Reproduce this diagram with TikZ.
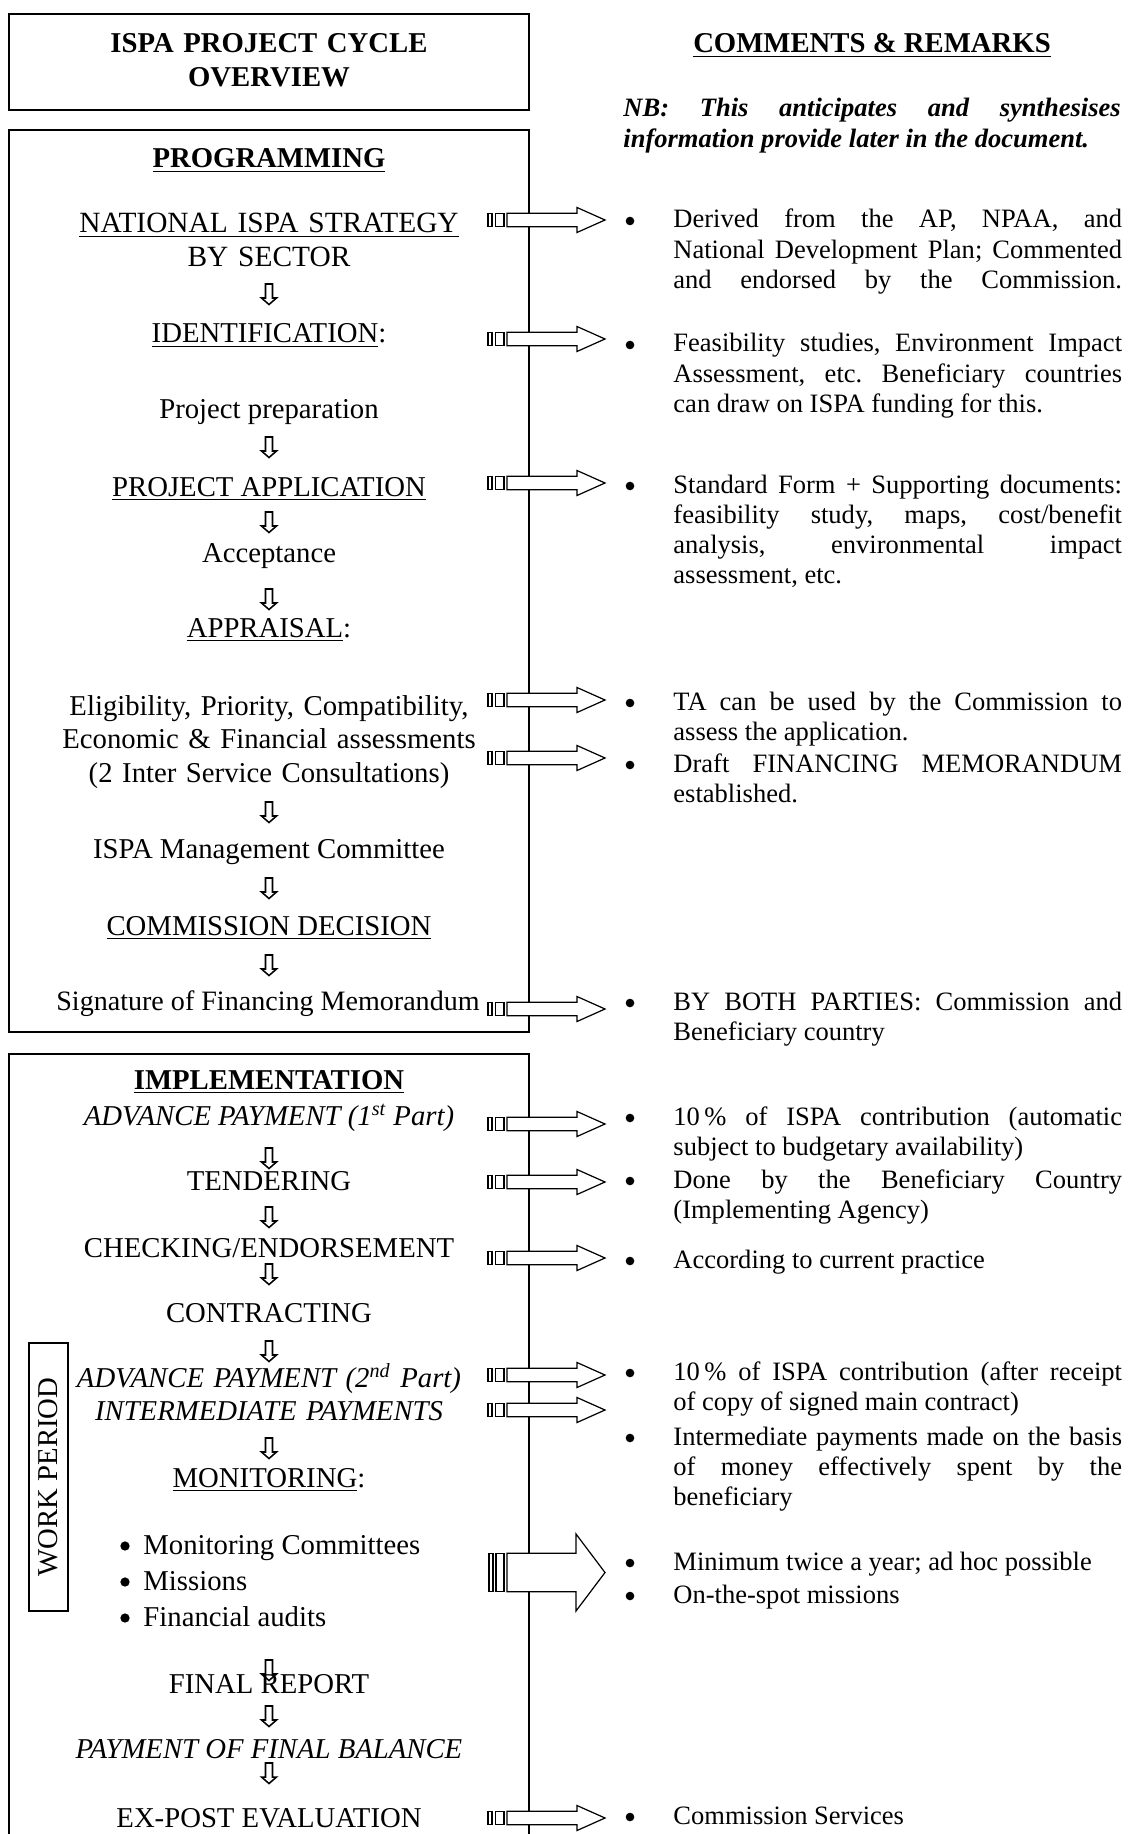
\documentclass[tikz,border=0pt]{standalone}
\usepackage{fontspec}
\setmainfont{Liberation Serif}
\usetikzlibrary{positioning}
\hyphenpenalty=10000
\exhyphenpenalty=10000
\frenchspacing

\tikzset{
    box/.style={line width=0.6pt},
    leftitem/.style={anchor=base, inner sep=0pt, font=\fontsize{13}{15.2}\selectfont},
    leftblock/.style={leftitem, text width=235pt, align=center},
    remark/.style={anchor=base west, inner sep=0pt, text width=203pt, align=justify,
        font=\fontsize{12}{13.6}\selectfont},
    dot/.style={circle, fill, inner sep=0pt, minimum size=3.9pt},
    arrline/.style={line width=0.55pt, fill=white},
    downarr/.pic={
        \draw[line width=0.7pt] (-3.5,-10) -- (3.5,-10) -- (3.5,4) -- (7.5,4) -- (0,10.5)
            -- (-7.5,4) -- (-3.5,4) -- cycle;
    },
    sidearr/.pic={
        \draw[arrline] (488,-6.7) rectangle (492,6.7) (495.5,-6.7) rectangle (504,6.7);
        \draw[arrline] (507,-6.7) -- (577,-6.7) -- (577,-12.5) -- (605,0) -- (577,12.5)
            -- (577,6.7) -- (507,6.7) -- cycle;
    }
}
% justify the last line too
\newcommand{\fullpar}{{\parfillskip=0pt\par}}

\begin{document}
\begin{tikzpicture}[x=0.4525pt, y=-0.4525pt]
    \useasboundingbox (0,0) rectangle (1128,1834);
    % frames
    \draw[box] (9,14) rectangle (529,110);
    \draw[box] (9,130) rectangle (529,1032);
    \draw[box] (9,1850) -- (9,1054) -- (529,1054) -- (529,1850);
    \draw[box] (29,1343) rectangle (68,1611);

    % headings
    \node[leftblock, font=\fontsize{13}{15}\selectfont\bfseries] (title) at (269,53)
        {ISPA PROJECT CYCLE\\OVERVIEW};
    \node[leftitem, font=\fontsize{13}{15}\selectfont\bfseries] (comments) at (872,53)
        {\underline{COMMENTS \& REMARKS}};
    \node[remark, text width=225pt, font=\fontsize{12}{13.6}\selectfont\bfseries\itshape] (nb) at (623,117)
        {NB: This anticipates and synthesises\linebreak information provide later in the document.};

    % programming
    \node[leftitem, font=\fontsize{13}{15.2}\selectfont\bfseries] (prog) at (269,168) {\underline{PROGRAMMING}};
    \node[leftblock, font=\fontsize{13.3}{15.2}\selectfont] (strategy) at (269,233) {\underline{NATIONAL ISPA STRATEGY}\\BY SECTOR};
    \node[leftitem] (ident) at (269,343) {\underline{IDENTIFICATION}:};
    \node[leftitem] (prep) at (269,418) {Project preparation};
    \node[leftitem] (appl) at (269,496) {\underline{PROJECT APPLICATION}};
    \node[leftitem] (accept) at (269,562) {Acceptance};
    \node[leftitem] (apprais) at (269,637) {\underline{APPRAISAL}:};
    \node[leftblock] (assess) at (269,715)
        {Eligibility, Priority, Compatibility,\\Economic \& Financial assessments\\(2 Inter Service Consultations)};
    \node[leftitem] (mgmt) at (269,858) {ISPA Management Committee};
    \node[leftitem] (decision) at (269,935) {\underline{COMMISSION DECISION}};
    \node[leftitem, font=\fontsize{12.7}{15.2}\selectfont] (signature) at (268,1010) {Signature of Financing Memorandum};

    % implementation
    \node[leftitem, font=\fontsize{13}{15.2}\selectfont\bfseries] (impl) at (269,1089) {\underline{IMPLEMENTATION}};
    \node[leftitem, font=\fontsize{13}{15.2}\selectfont\itshape] (adv1) at (269,1125)
        {ADVANCE PAYMENT (1\textsuperscript{st} Part)};
    \node[leftitem] (tender) at (269,1190) {TENDERING};
    \node[leftitem] (check) at (269,1257) {CHECKING/ENDORSEMENT};
    \node[leftitem] (contract) at (269,1322) {CONTRACTING};
    \node[leftblock, font=\fontsize{13}{15.2}\selectfont\itshape] (adv2) at (269,1387)
        {ADVANCE PAYMENT (2\textsuperscript{nd} Part)\\INTERMEDIATE PAYMENTS};
    \node[leftitem] (monit) at (269,1487) {\underline{MONITORING}:};
    \foreach \y/\t [count=\i] in {1554/Monitoring Committees, 1590/Missions, 1626/Financial audits} {
        \node[dot, minimum size=4.2pt] (mdot\i) at (125,\y-8) {};
        \node[leftitem, anchor=base west] (mon\i) at (143,\y) {\t};
    }
    \node[leftitem] (finalrep) at (269,1693) {FINAL REPORT};
    \node[leftitem, font=\fontsize{13}{15.2}\selectfont\itshape] (balance) at (269,1758) {PAYMENT OF FINAL BALANCE};
    \node[leftitem] (expost) at (269,1827) {EX-POST EVALUATION};
    \node[leftitem, anchor=center, rotate=90] (work) at (48.5,1477) {WORK PERIOD};

    % down arrows
    \foreach \y in {294,447,522,599,812,888,965,1158,1217,1274,1351,1448,1670,1716,1773}
        \pic at (269,\y) {downarr};

    % arrows to the remarks
    \foreach \y in {220,339,483,700,758,1009,1124,1182,1258,1375,1410,1818}
        \pic at (0,\y) {sidearr};
    \draw[arrline] (489,1553.3) rectangle (493,1591.7) (496,1553.3) rectangle (504,1591.7);
    \draw[arrline] (507,1553.3) -- (576,1553.3) -- (576,1534) -- (605,1572.5) -- (576,1611)
        -- (576,1591.7) -- (507,1591.7) -- cycle;

    % remarks
    \foreach \y [count=\i] in {228,352,493,710,772,1010,1125,1188,1268,1380,1445,1570,1603,1824}
        \node[dot] (dot\i) at (630,\y-7) {};
    \node[remark] (r-strategy) at (673,228) {Derived from the AP, NPAA, and\linebreak
        National Development Plan; Commented\linebreak and endorsed by the Commission.\fullpar};
    \node[remark] (r-ident) at (673,352) {Feasibility studies, Environment Impact\linebreak
        Assessment, etc. Beneficiary countries\linebreak can draw on ISPA funding for this.};
    \node[remark] (r-appl) at (673,493) {Standard Form + Supporting documents:\linebreak
        feasibility study, maps, cost/benefit\linebreak analysis, environmental impact\linebreak assessment, etc.};
    \node[remark] (r-ta) at (673,710) {TA can be used by the Commission to\linebreak assess the application.};
    \node[remark] (r-draft) at (673,772) {Draft FINANCING MEMORANDUM\linebreak established.};
    \node[remark] (r-sign) at (673,1010) {BY BOTH PARTIES: Commission and\linebreak Beneficiary country};
    \node[remark] (r-adv1) at (673,1125) {10\,\% of ISPA contribution (automatic\linebreak
        subject to budgetary availability)};
    \node[remark] (r-tender) at (673,1188) {Done by the Beneficiary Country\linebreak (Implementing Agency)};
    \node[remark] (r-check) at (673,1268) {According to current practice};
    \node[remark] (r-adv2) at (673,1380) {10\,\% of ISPA contribution (after receipt\linebreak
        of copy of signed main contract)};
    \node[remark] (r-inter) at (673,1445) {Intermediate payments made on the basis\linebreak
        of money effectively spent by the\linebreak beneficiary};
    \node[remark] (r-mon1) at (673,1570) {Minimum twice a year; ad hoc possible};
    \node[remark] (r-mon2) at (673,1603) {On-the-spot missions};
    \node[remark] (r-expost) at (673,1824) {Commission Services};
\end{tikzpicture}
\end{document}
